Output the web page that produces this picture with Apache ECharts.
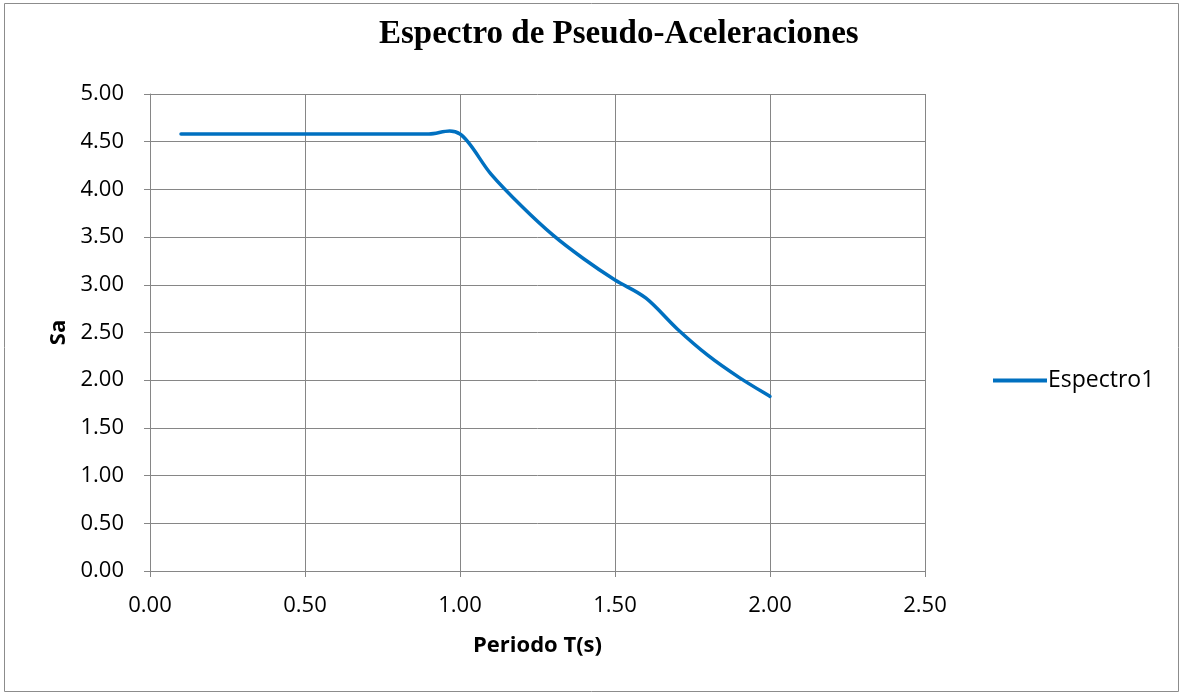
<!DOCTYPE html>
<html>
<head>
<meta charset="utf-8">
<script src="https://cdn.jsdelivr.net/npm/echarts@6/dist/echarts.min.js"></script>
<style>
html,body{margin:0;padding:0;background:#fff;}
#chart{width:1180px;height:693px;}
</style>
</head>
<body>
<div id="chart"></div>
<script>
const periods = [0.1,0.2,0.3,0.4,0.5,0.6,0.7,0.8,0.9,1.0,1.1,1.2,1.3,1.4,1.5,1.6,1.7,1.8,1.9,2.0];
const sa = [4.58,4.58,4.58,4.58,4.58,4.58,4.58,4.58,4.58,4.58,4.16,3.82,3.52,3.27,3.05,2.86,2.54,2.26,2.03,1.83];
const seriesName = 'Espectro1';
const titleText = 'Espectro de Pseudo-Aceleraciones';
const xName = 'Periodo T(s)';
const yName = 'Sa';

const chart = echarts.init(document.getElementById('chart'));
const axisGray = '#868686';
const labelFont = 'Open Sans';
const lineColor = '#0070C0';

// Excel-style smoothed line (Catmull-Rom bezier) drawn through the axes' coordinate system
function renderSmooth(params, api) {
  if (params.dataIndex !== 0) return null;
  const pts = periods.map((p, i) => api.coord([p, sa[i]]));
  const n = pts.length;
  let d = 'M' + pts[0][0] + ' ' + pts[0][1];
  for (let i = 0; i < n - 1; i++) {
    const p0 = pts[Math.max(i - 1, 0)];
    const p1 = pts[i];
    const p2 = pts[i + 1];
    const p3 = pts[Math.min(i + 2, n - 1)];
    const c1x = p1[0] + (p2[0] - p0[0]) / 6, c1y = p1[1] + (p2[1] - p0[1]) / 6;
    const c2x = p2[0] - (p3[0] - p1[0]) / 6, c2y = p2[1] - (p3[1] - p1[1]) / 6;
    d += ' C' + c1x + ' ' + c1y + ' ' + c2x + ' ' + c2y + ' ' + p2[0] + ' ' + p2[1];
  }
  return {
    type: 'path',
    shape: { pathData: d },
    style: { stroke: lineColor, lineWidth: 3.5, fill: null, lineCap: 'round', lineJoin: 'round' }
  };
}

chart.setOption({
  animation:false,
  backgroundColor:'#ffffff',
  title:{
    text:titleText, left:374, top:13,
    textStyle:{fontFamily:'Liberation Serif', fontWeight:'bold', fontSize:33, color:'#000'}
  },
  legend:{
    data:[seriesName], orient:'vertical', left:988, top:364,
    itemWidth:54, itemHeight:4, itemGap:0,
    icon:'rect',
    textStyle:{fontFamily:labelFont, fontSize:23, color:'#000', padding:[0,0,0,-4]}
  },
  grid:{left:150, right:255, top:94, bottom:122},
  xAxis:{
    type:'value', min:0, max:2.5, interval:0.5,
    name:xName, nameLocation:'middle', nameGap:64,
    nameTextStyle:{fontFamily:labelFont, fontWeight:'bold', fontSize:22, color:'#000'},
    axisLine:{onZero:false, lineStyle:{color:axisGray, width:1}},
    axisTick:{show:true, length:6, inside:false, lineStyle:{color:axisGray}},
    axisLabel:{margin:24, fontFamily:labelFont, fontSize:22, color:'#000', formatter:v=>v.toFixed(2)},
    splitLine:{show:true, lineStyle:{color:axisGray, width:1}}
  },
  yAxis:{
    type:'value', min:0, max:5, interval:0.5,
    name:yName, nameLocation:'middle', nameGap:77, nameRotate:90,
    nameTextStyle:{fontFamily:labelFont, fontWeight:'bold', fontSize:22, color:'#000'},
    axisLine:{show:true, lineStyle:{color:axisGray, width:1}},
    axisTick:{show:true, length:6, inside:false, lineStyle:{color:axisGray}},
    axisLabel:{margin:26, fontFamily:labelFont, fontSize:22, color:'#000', formatter:v=>v.toFixed(2)},
    splitLine:{show:true, lineStyle:{color:axisGray, width:1}}
  },
  series:[{
    name:seriesName, type:'custom',
    renderItem: renderSmooth,
    data:periods.map((p,i)=>[p,sa[i]]),
    encode:{x:0, y:1},
    itemStyle:{color:lineColor}
  }],
  graphic:[{
    type:'rect', shape:{x:4.5, y:3.5, width:1174, height:688},
    style:{fill:null, stroke:'#8c8c8c', lineWidth:1}, silent:true, z:-1
  }]
});
</script>
</body>
</html>
